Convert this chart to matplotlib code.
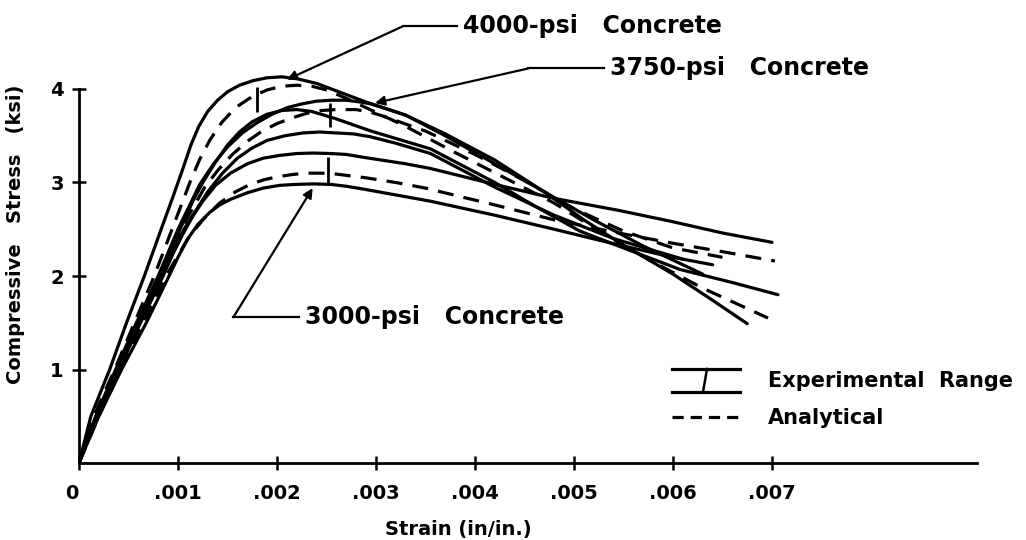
import numpy as np
import matplotlib
matplotlib.use('Agg')
import matplotlib.pyplot as plt
from matplotlib.lines import Line2D

# strain values in units of 0.001 in/in, stress in ksi
# 4000-psi concrete
strain_4000_hi = [0, 0.12, 0.31, 0.48, 0.66, 0.83, 0.95, 1.05, 1.13, 1.21, 1.3, 1.4, 1.5, 1.62, 1.76, 1.9, 2.05, 2.2, 2.4, 2.6, 2.9, 3.3, 3.7, 4.2, 4.7, 5.1, 5.5, 6.0, 6.4, 6.75]
stress_4000_hi = [0, 0.5, 1.0, 1.5, 2.0, 2.5, 2.85, 3.15, 3.4, 3.6, 3.76, 3.88, 3.97, 4.04, 4.09, 4.12, 4.13, 4.11, 4.06, 3.98, 3.86, 3.72, 3.52, 3.24, 2.9, 2.6, 2.33, 2.02, 1.74, 1.49]
strain_4000_an = [0, 0.15, 0.36, 0.56, 0.76, 0.94, 1.12, 1.22, 1.32, 1.44, 1.58, 1.75, 1.9, 2.05, 2.2, 2.35, 2.5, 2.7, 2.9, 3.3, 3.8, 4.3, 4.8, 5.3, 5.8, 6.3, 6.96]
stress_4000_an = [0, 0.5, 1.0, 1.5, 2.0, 2.5, 3.0, 3.25, 3.45, 3.64, 3.8, 3.92, 3.99, 4.03, 4.04, 4.03, 3.99, 3.9, 3.8, 3.6, 3.32, 3.05, 2.78, 2.45, 2.15, 1.87, 1.55]
strain_4000_lo = [0, 0.17, 0.38, 0.6, 0.83, 1.02, 1.15, 1.25, 1.38, 1.5, 1.62, 1.75, 1.9, 2.05, 2.2, 2.35, 2.6, 2.95, 3.55, 4.2, 4.6, 5.06, 5.5, 6.07, 6.6, 7.06]
stress_4000_lo = [0, 0.5, 1.0, 1.5, 2.0, 2.5, 2.8, 3.0, 3.22, 3.4, 3.54, 3.65, 3.73, 3.77, 3.78, 3.76, 3.68, 3.55, 3.36, 3.0, 2.75, 2.48, 2.3, 2.07, 1.93, 1.80]

# 3750-psi concrete
strain_3750_hi = [0, 0.17, 0.37, 0.58, 0.8, 1.0, 1.22, 1.36, 1.5, 1.65, 1.8, 1.95, 2.1, 2.25, 2.4, 2.55, 2.7, 2.85, 2.95, 3.1, 3.3, 3.7, 4.2, 4.7, 5.2, 5.7, 6.3]
stress_3750_hi = [0, 0.5, 1.0, 1.5, 2.0, 2.5, 2.98, 3.2, 3.38, 3.53, 3.64, 3.73, 3.8, 3.84, 3.87, 3.88, 3.88, 3.86, 3.84, 3.79, 3.72, 3.5, 3.2, 2.9, 2.6, 2.32, 2.02]
strain_3750_an = [0, 0.18, 0.39, 0.6, 0.82, 1.03, 1.27, 1.41, 1.55, 1.7, 1.85, 2.0, 2.15, 2.3, 2.45, 2.6, 2.8, 2.95, 3.1, 3.5, 4.0, 4.5, 5.0, 5.5, 6.0, 6.5]
stress_3750_an = [0, 0.5, 1.0, 1.5, 2.0, 2.5, 2.95, 3.14, 3.3, 3.44, 3.55, 3.63, 3.69, 3.74, 3.77, 3.78, 3.78, 3.75, 3.7, 3.55, 3.3, 3.02, 2.72, 2.48, 2.3, 2.2]
strain_3750_lo = [0, 0.18, 0.4, 0.62, 0.84, 1.06, 1.3, 1.45, 1.6, 1.75, 1.9, 2.08, 2.26, 2.43, 2.6, 2.77, 2.94, 3.2, 3.55, 4.2, 4.8, 5.4, 6.1]
stress_3750_lo = [0, 0.5, 1.0, 1.5, 2.0, 2.5, 2.9, 3.1, 3.26, 3.37, 3.45, 3.5, 3.53, 3.54, 3.53, 3.52, 3.49, 3.42, 3.31, 2.95, 2.65, 2.4, 2.18]

# 3000-psi concrete
strain_3000_hi = [0, 0.18, 0.4, 0.62, 0.85, 0.95, 1.05, 1.15, 1.25, 1.38, 1.53, 1.7, 1.86, 2.03, 2.2, 2.37, 2.54, 2.7, 2.87, 3.3, 3.55, 4.2, 4.8, 5.46, 6.0, 6.5, 7.0]
stress_3000_hi = [0, 0.5, 1.0, 1.5, 2.0, 2.24, 2.45, 2.64, 2.8, 2.97, 3.1, 3.2, 3.26, 3.29, 3.31, 3.315, 3.31, 3.3, 3.27, 3.2, 3.15, 2.98, 2.83, 2.7, 2.58, 2.46, 2.36]
strain_3000_an = [0, 0.2, 0.42, 0.65, 0.88, 1.0, 1.1, 1.25, 1.42, 1.58, 1.73, 1.87, 2.0, 2.15, 2.3, 2.45, 2.6, 2.9, 3.2, 3.5, 4.2, 4.8, 5.5, 6.0, 6.5, 7.03]
stress_3000_an = [0, 0.5, 1.0, 1.5, 2.0, 2.22, 2.4, 2.6, 2.78, 2.9, 2.98, 3.03, 3.06, 3.085, 3.1, 3.1, 3.09, 3.05, 3.0, 2.94, 2.76, 2.6, 2.45, 2.35, 2.26, 2.16]
strain_3000_lo = [0, 0.2, 0.43, 0.68, 0.9, 1.0, 1.1, 1.2, 1.32, 1.42, 1.53, 1.7, 1.86, 2.03, 2.2, 2.37, 2.54, 2.7, 2.87, 3.55, 4.2, 4.8, 5.46, 6.0, 6.4]
stress_3000_lo = [0, 0.5, 1.0, 1.5, 1.98, 2.2, 2.4, 2.55, 2.68, 2.76, 2.82, 2.89, 2.94, 2.97, 2.98, 2.985, 2.98, 2.96, 2.93, 2.8, 2.65, 2.5, 2.33, 2.2, 2.12]

# experimental range marks (strain, low, high)
range_strain = [1.80, 2.54, 2.52]
range_low = [3.75, 3.59, 2.97]
range_high = [4.02, 3.85, 3.27]

x_ticks = [0, 1, 2, 3, 4, 5, 6, 7]
x_tick_labels = ['0', '.001', '.002', '.003', '.004', '.005', '.006', '.007']
y_ticks = [1, 2, 3, 4]

plt.rcParams['font.family'] = ['DejaVu Sans']
plt.rcParams['font.weight'] = 'bold'

W, H = 1026, 540
fig = plt.figure(figsize=(W / 100, H / 100), dpi=100)
# axes placed so that origin is at pixel (79, 463)
x0, y0, x1, y1 = 79, 463, 977, 4.85
ax = fig.add_axes([x0 / W, 1 - y0 / H, (x1 - x0) / W, (y0 - y1) / H])
ax.set_xlim(0, (x1 - x0) / 99.0)
ax.set_ylim(0, (y0 - y1) / 93.5)

lw = 2.3
dash = (0, (5, 3.2))
solid_kw = dict(color='black', lw=lw, solid_capstyle='round', solid_joinstyle='round')
dash_kw = dict(color='black', lw=lw, linestyle=dash, dash_capstyle='butt')

for s, f in [(strain_4000_hi, stress_4000_hi), (strain_4000_lo, stress_4000_lo),
             (strain_3750_hi, stress_3750_hi), (strain_3750_lo, stress_3750_lo),
             (strain_3000_hi, stress_3000_hi), (strain_3000_lo, stress_3000_lo)]:
    ax.plot(s, f, **solid_kw)
for s, f in [(strain_4000_an, stress_4000_an), (strain_3750_an, stress_3750_an),
             (strain_3000_an, stress_3000_an)]:
    ax.plot(s, f, **dash_kw)

ax.vlines(range_strain, range_low, range_high, color='black', lw=2.0)

# axes styling
for side in ['top', 'right']:
    ax.spines[side].set_visible(False)
ax.spines['left'].set_bounds(0, 4)
ax.spines['left'].set_linewidth(2.0)
ax.spines['bottom'].set_linewidth(2.0)
ax.set_xticks(x_ticks)
ax.set_xticklabels(x_tick_labels)
ax.set_yticks(y_ticks)
ax.tick_params(direction='inout', length=10, width=1.8, labelsize=14, pad=6)
ax.tick_params(axis='x', pad=10)
ax.get_xticklabels()[0].set_horizontalalignment('right')
ax.set_xlabel('Strain (in/in.)', fontsize=14, fontweight='bold')
ax.xaxis.set_label_coords((458 - x0) / (x1 - x0), -0.125)
ax.set_ylabel('Compressive   Stress   (ksi)', fontsize=14, fontweight='bold', labelpad=18)

# leader lines and labels
ann_kw = dict(color='black', lw=1.6)
labels = [
    ('4000-psi   Concrete', (3.88, 4.67), (3.27, 4.67), (2.10, 4.10)),
    ('3750-psi   Concrete', (5.36, 4.22), (4.54, 4.22), (2.99, 3.85)),
    ('3000-psi   Concrete', (2.28, 1.56), (1.56, 1.56), (2.36, 2.94)),
]
for text, tpos, knee, tip in labels:
    ax.text(tpos[0], tpos[1], text, fontsize=17, fontweight='bold', va='center', ha='left')
    ax.plot([tpos[0] - 0.06, knee[0]], [tpos[1], knee[1]], **ann_kw)
    ax.annotate('', xy=tip, xytext=knee,
                arrowprops=dict(arrowstyle='-|>', color='black', lw=1.6,
                                mutation_scale=14, shrinkA=0, shrinkB=0))

# legend drawn by hand
def fx(p):
    return p / W

def fy(p):
    return 1 - p / H

fig.add_artist(Line2D([fx(672), fx(740)], [fy(369), fy(369)], color='black', lw=2.3))
fig.add_artist(Line2D([fx(672), fx(740)], [fy(392), fy(392)], color='black', lw=2.3))
fig.add_artist(Line2D([fx(707), fx(703)], [fy(369), fy(392)], color='black', lw=1.8))
fig.add_artist(Line2D([fx(672), fx(740)], [fy(417), fy(417)], color='black', lw=2.3,
                      linestyle=(0, (3.5, 2.2))))
fig.text(fx(768), fy(381), 'Experimental  Range', fontsize=15, fontweight='bold', va='center')
fig.text(fx(768), fy(418), 'Analytical', fontsize=15, fontweight='bold', va='center')

fig.savefig('out.png', dpi=100)
